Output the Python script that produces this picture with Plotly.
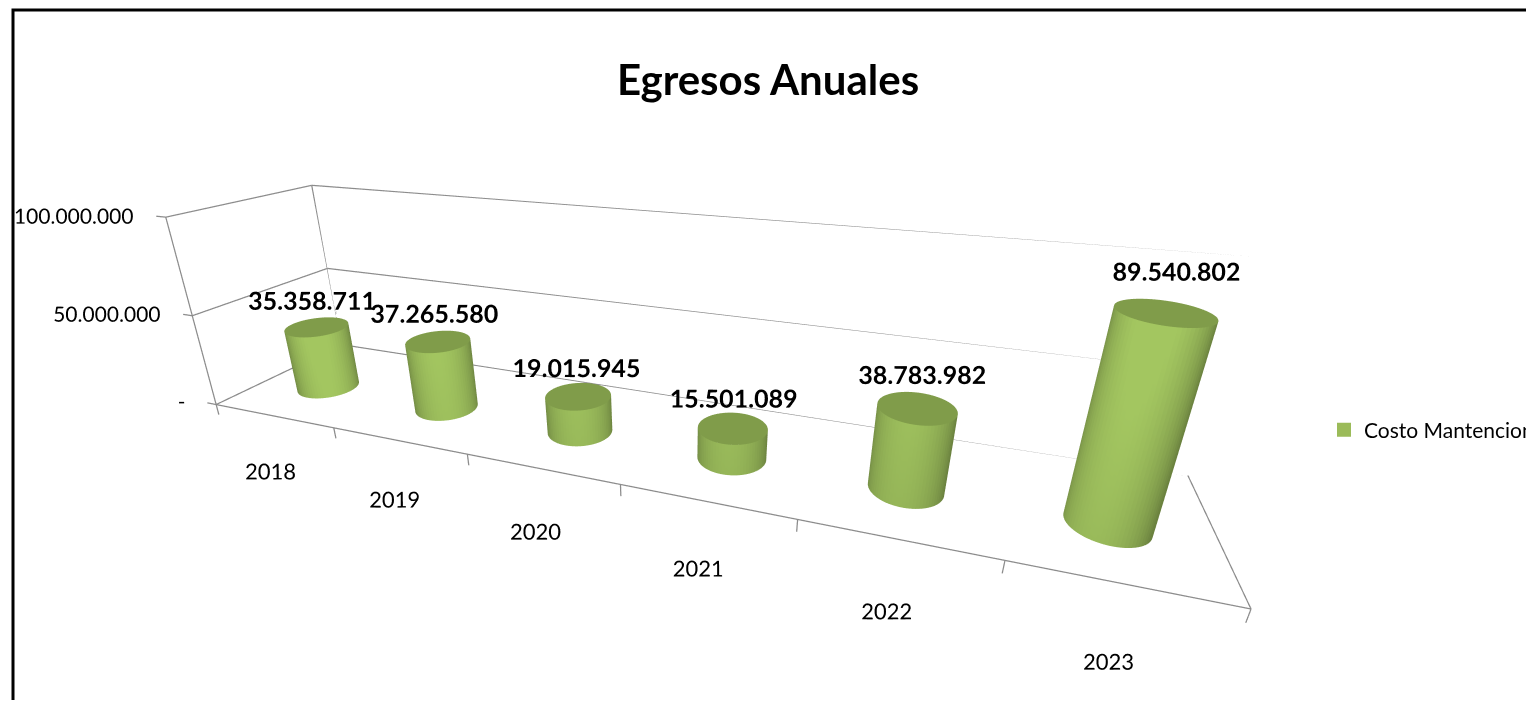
import numpy as np
import plotly.graph_objects as go

years = ["2018", "2019", "2020", "2021", "2022", "2023"]
values = [35358711, 37265580, 19015945, 15501089, 38783982, 89540802]
labels = ["35.358.711", "37.265.580", "19.015.945", "15.501.089", "38.783.982", "89.540.802"]
z_tickvals = [0, 50000000, 100000000]
z_ticktext = ["-", "50.000.000", "100.000.000"]
series_name = "Costo Mantencion"
title_text = "Egresos Anuales"

GREEN = "#9BBB59"
SIDEGREEN = "#A3C660"
TOPGREEN = "#809C4A"
GRID = "#8C8C8C"
FONT = "Lato"

n = len(years)
X0, X1 = -0.5, n - 0.5
Y0, Y1 = 0.0, 1.0
ZMAX = z_tickvals[-1]

fig = go.Figure()

# ---- walls, gridlines, floor and ticks (from axis ranges / tick values) ----
lx, ly, lz = [], [], []
def seg(a, b):
    lx.extend([a[0], b[0], None]); ly.extend([a[1], b[1], None]); lz.extend([a[2], b[2], None])

seg((X0, Y0, 0), (X0, Y0, ZMAX))
seg((X0, Y1, 0), (X0, Y1, ZMAX))
for z in z_tickvals:
    seg((X0, Y0, z), (X0, Y1, z))
    seg((X0, Y1, z), (X1, Y1, z))
    seg((X0 - 0.08, Y0, z), (X0, Y0, z))
seg((X0, Y0, 0), (X1, Y0, 0))
seg((X1, Y0, 0), (X1, Y1, 0))
for k in range(n + 1):
    b = X0 + k
    seg((b, Y0, 0), (b, Y0, -0.06 * ZMAX))
fig.add_trace(go.Scatter3d(x=lx, y=ly, z=lz, mode="lines",
                           line=dict(color=GRID, width=2.5),
                           hoverinfo="skip", showlegend=False))

# ---- cylinders ----
RX, RY = 0.204, 0.170
YC = 0.42
theta = np.linspace(0, 2 * np.pi, 72)
for i, v in enumerate(values):
    th, zz = np.meshgrid(theta, [0, v])
    fig.add_trace(go.Surface(
        x=i + RX * np.cos(th), y=YC + RY * np.sin(th), z=zz,
        surfacecolor=np.zeros_like(zz),
        colorscale=[[0, SIDEGREEN], [1, SIDEGREEN]], showscale=False,
        lighting=dict(ambient=0.65, diffuse=0.65, specular=0.15, roughness=0.5, fresnel=0.2),
        lightposition=dict(x=30000, y=-30000, z=10000),
        hoverinfo="skip", showlegend=False))
    rr, th2 = np.meshgrid(np.linspace(0, 1, 2), theta)
    fig.add_trace(go.Surface(
        x=i + RX * rr * np.cos(th2), y=YC + RY * rr * np.sin(th2), z=np.full_like(rr, v),
        surfacecolor=np.zeros_like(rr),
        colorscale=[[0, TOPGREEN], [1, TOPGREEN]], showscale=False,
        lighting=dict(ambient=0.9, diffuse=0.2, specular=0.0),
        hoverinfo="skip", showlegend=False))

# ---- data labels ----
fig.add_trace(go.Scatter3d(
    x=list(range(n)), y=[YC] * n, z=[v + 0.15 * ZMAX for v in values],
    mode="text", text=[f"<b>{t}</b>" for t in labels],
    textfont=dict(family=FONT, size=25, color="black"),
    textposition="middle center", hoverinfo="skip", showlegend=False))

# ---- category labels ----
fig.add_trace(go.Scatter3d(
    x=list(range(n)), y=[-0.1] * n, z=[-0.28 * ZMAX] * n,
    mode="text", text=years,
    textfont=dict(family=FONT, size=22, color="black"),
    textposition="middle center", hoverinfo="skip", showlegend=False))

# ---- value axis labels ----
fig.add_trace(go.Scatter3d(
    x=[X0 - 0.1] * len(z_tickvals), y=[Y0] * len(z_tickvals), z=z_tickvals,
    mode="text", text=z_ticktext,
    textfont=dict(family=FONT, size=21, color="black"),
    textposition="middle left", hoverinfo="skip", showlegend=False))

# ---- legend entry ----
fig.add_trace(go.Scatter3d(
    x=[None], y=[None], z=[None], mode="markers", name=series_name,
    marker=dict(symbol="square", size=14, color=GREEN), showlegend=True))

hidden = dict(visible=False, showbackground=False, showspikes=False)
W, H = 1518, 692

fig.update_layout(
    width=W, height=H,
    paper_bgcolor="white",
    margin=dict(l=0, r=0, t=0, b=0, autoexpand=False),
    hovermode=False,
    title=dict(text=f"<b>{title_text}</b>", x=760 / W, y=1 - 72 / H,
               xanchor="center", yanchor="middle",
               font=dict(family=FONT, size=42, color="black")),
    showlegend=True,
    legend=dict(x=1316 / W, y=1 - 422 / H, xanchor="left", yanchor="middle",
                font=dict(family=FONT, size=21, color="black"),
                bgcolor="rgba(0,0,0,0)"),
    scene=dict(
        domain=dict(x=[0.0, 0.878], y=[0.0, 0.92]),
        bgcolor="rgba(0,0,0,0)",
        aspectmode="manual", aspectratio=dict(x=5.019, y=1.3146, z=1.45),
        xaxis=dict(range=[-0.8, 5.6], **hidden),
        yaxis=dict(range=[-0.4, 1.0], **hidden),
        zaxis=dict(range=[-0.35 * ZMAX, 1.1 * ZMAX], **hidden),
        camera=dict(eye=dict(x=1.2924, y=-2.9194, z=1.407),
                    center=dict(x=0.3534, y=-0.3448, z=0.187),
                    up=dict(x=0, y=0, z=1), projection=dict(type="perspective")),
    ),
    shapes=[dict(type="rect", xref="paper", yref="paper",
                 x0=5 / W, x1=1.05, y0=-0.1, y1=1 - 2 / H,
                 line=dict(color="black", width=3))],
)

fig.write_html("out.html")
